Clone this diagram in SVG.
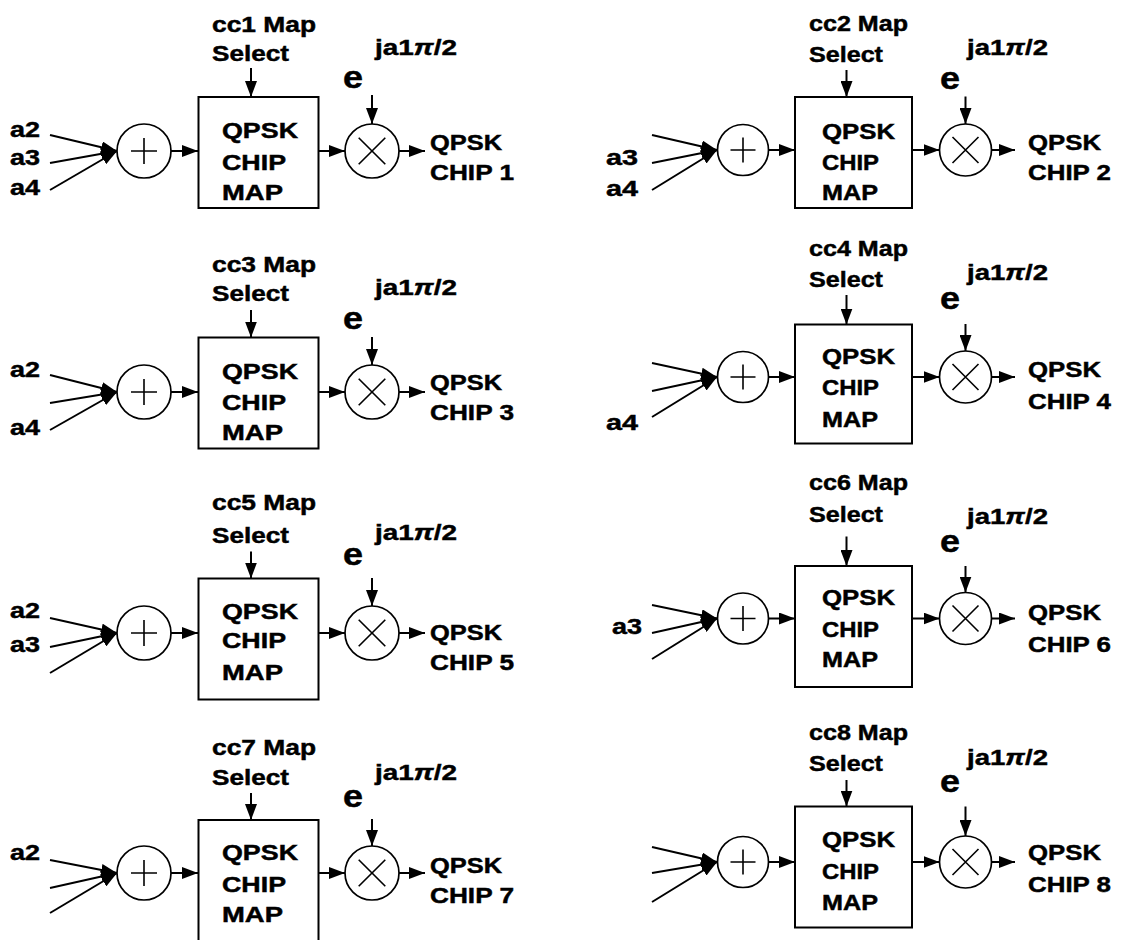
<svg xmlns="http://www.w3.org/2000/svg" width="1138" height="940" viewBox="0 0 1138 940">
<style>
.t{font-family:"Liberation Sans",Arial,sans-serif;font-weight:bold;font-size:21.5px;fill:#000;stroke:#000;stroke-width:0.45}
.e{font-size:32px}
.j{font-size:22.5px}
.pi{font-style:italic}
.box{fill:none;stroke:#000;stroke-width:2}
.c{fill:#fff;stroke:#000;stroke-width:1.7}
.w{stroke:#000;stroke-width:1.6;fill:none}
.ln{stroke:#000;stroke-width:2;fill:none;marker-end:url(#ah)}
</style>
<defs>
<marker id="ah" markerUnits="userSpaceOnUse" markerWidth="16" markerHeight="12" refX="16" refY="6" orient="auto">
<path d="M0,0 L16,6 L0,12 z" fill="#000"/>
</marker>
</defs>
<rect width="1138" height="940" fill="#fff"/>

<g id="connectors">
<line class="ln" x1="50" y1="135" x2="117" y2="151"/>
<line class="ln" x1="50" y1="163" x2="117" y2="151"/>
<line class="ln" x1="50" y1="190" x2="117" y2="151"/>
<line class="ln" x1="171" y1="151" x2="198" y2="151"/>
<line class="ln" x1="319" y1="151" x2="345" y2="151"/>
<line class="ln" x1="399" y1="151" x2="425" y2="151"/>
<line class="ln" x1="251" y1="68" x2="251" y2="97"/>
<line class="ln" x1="372" y1="95" x2="372" y2="124"/>
<line class="ln" x1="50" y1="375" x2="117" y2="392"/>
<line class="ln" x1="50" y1="403" x2="117" y2="392"/>
<line class="ln" x1="50" y1="430" x2="117" y2="392"/>
<line class="ln" x1="171" y1="392" x2="198" y2="392"/>
<line class="ln" x1="319" y1="392" x2="345" y2="392"/>
<line class="ln" x1="399" y1="392" x2="425" y2="392"/>
<line class="ln" x1="251" y1="310" x2="251" y2="337.5"/>
<line class="ln" x1="372" y1="337" x2="372" y2="365"/>
<line class="ln" x1="50" y1="618" x2="117" y2="633"/>
<line class="ln" x1="50" y1="647" x2="117" y2="633"/>
<line class="ln" x1="50" y1="673" x2="117" y2="633"/>
<line class="ln" x1="171" y1="633" x2="198" y2="633"/>
<line class="ln" x1="319" y1="633" x2="345" y2="633"/>
<line class="ln" x1="399" y1="633" x2="425" y2="633"/>
<line class="ln" x1="251" y1="551.5" x2="251" y2="578.5"/>
<line class="ln" x1="372" y1="578" x2="372" y2="606"/>
<line class="ln" x1="50" y1="860" x2="117" y2="873"/>
<line class="ln" x1="50" y1="888" x2="117" y2="873"/>
<line class="ln" x1="50" y1="913" x2="117" y2="873"/>
<line class="ln" x1="171" y1="873" x2="198" y2="873"/>
<line class="ln" x1="319" y1="873" x2="345" y2="873"/>
<line class="ln" x1="399" y1="873" x2="425" y2="873"/>
<line class="ln" x1="251" y1="793" x2="251" y2="820"/>
<line class="ln" x1="372" y1="819" x2="372" y2="846"/>
<line class="ln" x1="652" y1="135" x2="717" y2="150"/>
<line class="ln" x1="652" y1="163" x2="717" y2="150"/>
<line class="ln" x1="652" y1="190" x2="717" y2="150"/>
<line class="ln" x1="769" y1="150" x2="795" y2="150"/>
<line class="ln" x1="912" y1="150" x2="939.5" y2="150"/>
<line class="ln" x1="991.5" y1="150" x2="1015" y2="150"/>
<line class="ln" x1="846.5" y1="70" x2="846.5" y2="97"/>
<line class="ln" x1="965.5" y1="96.5" x2="965.5" y2="124"/>
<line class="ln" x1="652" y1="363" x2="717" y2="377"/>
<line class="ln" x1="652" y1="391" x2="717" y2="377"/>
<line class="ln" x1="652" y1="417" x2="717" y2="377"/>
<line class="ln" x1="769" y1="377" x2="795" y2="377"/>
<line class="ln" x1="912" y1="377" x2="939.5" y2="377"/>
<line class="ln" x1="991.5" y1="377" x2="1015" y2="377"/>
<line class="ln" x1="846.5" y1="295" x2="846.5" y2="324.5"/>
<line class="ln" x1="965.5" y1="324" x2="965.5" y2="351"/>
<line class="ln" x1="652" y1="605" x2="717" y2="618.5"/>
<line class="ln" x1="652" y1="633" x2="717" y2="618.5"/>
<line class="ln" x1="652" y1="659" x2="717" y2="618.5"/>
<line class="ln" x1="769" y1="618.5" x2="795" y2="618.5"/>
<line class="ln" x1="912" y1="618.5" x2="939.5" y2="618.5"/>
<line class="ln" x1="991.5" y1="618.5" x2="1015" y2="618.5"/>
<line class="ln" x1="846.5" y1="536.5" x2="846.5" y2="566"/>
<line class="ln" x1="965.5" y1="566" x2="965.5" y2="592.5"/>
<line class="ln" x1="652" y1="847" x2="717" y2="862"/>
<line class="ln" x1="652" y1="873" x2="717" y2="862"/>
<line class="ln" x1="652" y1="902" x2="717" y2="862"/>
<line class="ln" x1="769" y1="862" x2="795" y2="862"/>
<line class="ln" x1="912" y1="862" x2="939.5" y2="862"/>
<line class="ln" x1="991.5" y1="862" x2="1015" y2="862"/>
<line class="ln" x1="846.5" y1="780" x2="846.5" y2="806.5"/>
<line class="ln" x1="965.5" y1="806.5" x2="965.5" y2="836"/>
</g>

<g id="in1" class="t"><text x="10" y="137" textLength="30" lengthAdjust="spacingAndGlyphs">a2</text><text x="10" y="165" textLength="30" lengthAdjust="spacingAndGlyphs">a3</text><text x="10" y="195" textLength="30" lengthAdjust="spacingAndGlyphs">a4</text></g>
<g id="sum1"><circle class="c" cx="144" cy="151" r="27"/><path class="w" d="M131,151H157M144,138V164"/></g>
<g id="map1"><rect class="box" x="198.5" y="97" width="120" height="111"/>
<g class="t"><text x="222" y="138" textLength="76" lengthAdjust="spacingAndGlyphs">QPSK</text><text x="222" y="170" textLength="64" lengthAdjust="spacingAndGlyphs">CHIP</text><text x="222" y="200" textLength="61" lengthAdjust="spacingAndGlyphs">MAP</text></g></g>
<g id="sel1" class="t"><text x="212" y="31.5" textLength="104" lengthAdjust="spacingAndGlyphs">cc1 Map</text><text x="212" y="61" textLength="77" lengthAdjust="spacingAndGlyphs">Select</text></g>
<g id="mul1"><circle class="c" cx="372" cy="151" r="27"/><path class="w" d="M358.7,137.7L385.3,164.3M358.7,164.3L385.3,137.7"/></g>
<g id="ph1" class="t"><text class="e" x="343" y="88" textLength="20" lengthAdjust="spacingAndGlyphs">e</text><text class="j" x="375" y="55" textLength="82" lengthAdjust="spacingAndGlyphs">ja1<tspan class="pi">π</tspan>/2</text></g>
<g id="out1" class="t"><text x="430" y="150" textLength="72" lengthAdjust="spacingAndGlyphs">QPSK</text><text x="430" y="180" textLength="84" lengthAdjust="spacingAndGlyphs">CHIP 1</text></g>

<g id="in3" class="t"><text x="10" y="377" textLength="30" lengthAdjust="spacingAndGlyphs">a2</text><text x="10" y="435" textLength="30" lengthAdjust="spacingAndGlyphs">a4</text></g>
<g id="sum3"><circle class="c" cx="144" cy="392" r="27"/><path class="w" d="M131,392H157M144,379V405"/></g>
<g id="map3"><rect class="box" x="198.5" y="337.5" width="120" height="111"/>
<g class="t"><text x="222" y="378.5" textLength="76" lengthAdjust="spacingAndGlyphs">QPSK</text><text x="222" y="410" textLength="64" lengthAdjust="spacingAndGlyphs">CHIP</text><text x="222" y="440" textLength="61" lengthAdjust="spacingAndGlyphs">MAP</text></g></g>
<g id="sel3" class="t"><text x="212" y="271.5" textLength="104" lengthAdjust="spacingAndGlyphs">cc3 Map</text><text x="212" y="300.5" textLength="77" lengthAdjust="spacingAndGlyphs">Select</text></g>
<g id="mul3"><circle class="c" cx="372" cy="392" r="27"/><path class="w" d="M358.7,378.7L385.3,405.3M358.7,405.3L385.3,378.7"/></g>
<g id="ph3" class="t"><text class="e" x="343" y="328.5" textLength="20" lengthAdjust="spacingAndGlyphs">e</text><text class="j" x="375" y="295" textLength="82" lengthAdjust="spacingAndGlyphs">ja1<tspan class="pi">π</tspan>/2</text></g>
<g id="out3" class="t"><text x="430" y="390" textLength="72" lengthAdjust="spacingAndGlyphs">QPSK</text><text x="430" y="420" textLength="84" lengthAdjust="spacingAndGlyphs">CHIP 3</text></g>

<g id="in5" class="t"><text x="10" y="618" textLength="30" lengthAdjust="spacingAndGlyphs">a2</text><text x="10" y="651.5" textLength="30" lengthAdjust="spacingAndGlyphs">a3</text></g>
<g id="sum5"><circle class="c" cx="144" cy="633" r="27"/><path class="w" d="M131,633H157M144,620V646"/></g>
<g id="map5"><rect class="box" x="198.5" y="578.5" width="120" height="121"/>
<g class="t"><text x="222" y="618.5" textLength="76" lengthAdjust="spacingAndGlyphs">QPSK</text><text x="222" y="648" textLength="64" lengthAdjust="spacingAndGlyphs">CHIP</text><text x="222" y="680" textLength="61" lengthAdjust="spacingAndGlyphs">MAP</text></g></g>
<g id="sel5" class="t"><text x="212" y="510" textLength="104" lengthAdjust="spacingAndGlyphs">cc5 Map</text><text x="212" y="542.5" textLength="77" lengthAdjust="spacingAndGlyphs">Select</text></g>
<g id="mul5"><circle class="c" cx="372" cy="633" r="27"/><path class="w" d="M358.7,619.7L385.3,646.3M358.7,646.3L385.3,619.7"/></g>
<g id="ph5" class="t"><text class="e" x="343" y="565" textLength="20" lengthAdjust="spacingAndGlyphs">e</text><text class="j" x="375" y="540" textLength="82" lengthAdjust="spacingAndGlyphs">ja1<tspan class="pi">π</tspan>/2</text></g>
<g id="out5" class="t"><text x="430" y="640" textLength="72" lengthAdjust="spacingAndGlyphs">QPSK</text><text x="430" y="670" textLength="84" lengthAdjust="spacingAndGlyphs">CHIP 5</text></g>

<g id="in7" class="t"><text x="10" y="860" textLength="30" lengthAdjust="spacingAndGlyphs">a2</text></g>
<g id="sum7"><circle class="c" cx="144" cy="873" r="27"/><path class="w" d="M131,873H157M144,860V886"/></g>
<g id="map7"><rect class="box" x="198.5" y="820" width="120" height="125"/>
<g class="t"><text x="222" y="860" textLength="76" lengthAdjust="spacingAndGlyphs">QPSK</text><text x="222" y="891.5" textLength="64" lengthAdjust="spacingAndGlyphs">CHIP</text><text x="222" y="921.5" textLength="61" lengthAdjust="spacingAndGlyphs">MAP</text></g></g>
<g id="sel7" class="t"><text x="212" y="755" textLength="104" lengthAdjust="spacingAndGlyphs">cc7 Map</text><text x="212" y="785" textLength="77" lengthAdjust="spacingAndGlyphs">Select</text></g>
<g id="mul7"><circle class="c" cx="372" cy="873" r="27"/><path class="w" d="M358.7,859.7L385.3,886.3M358.7,886.3L385.3,859.7"/></g>
<g id="ph7" class="t"><text class="e" x="343" y="806.5" textLength="20" lengthAdjust="spacingAndGlyphs">e</text><text class="j" x="375" y="780" textLength="82" lengthAdjust="spacingAndGlyphs">ja1<tspan class="pi">π</tspan>/2</text></g>
<g id="out7" class="t"><text x="430" y="873" textLength="72" lengthAdjust="spacingAndGlyphs">QPSK</text><text x="430" y="903" textLength="84" lengthAdjust="spacingAndGlyphs">CHIP 7</text></g>

<g id="in2" class="t"><text x="606" y="165" textLength="32" lengthAdjust="spacingAndGlyphs">a3</text><text x="606" y="196" textLength="32" lengthAdjust="spacingAndGlyphs">a4</text></g>
<g id="sum2"><circle class="c" cx="743" cy="150" r="25.5"/><path class="w" d="M730.5,150H755.5M743,137.5V162.5"/></g>
<g id="map2"><rect class="box" x="795" y="97" width="117" height="111"/>
<g class="t"><text x="822" y="138.5" textLength="73" lengthAdjust="spacingAndGlyphs">QPSK</text><text x="822" y="170" textLength="57" lengthAdjust="spacingAndGlyphs">CHIP</text><text x="822" y="200" textLength="56" lengthAdjust="spacingAndGlyphs">MAP</text></g></g>
<g id="sel2" class="t"><text x="809" y="30.5" textLength="99" lengthAdjust="spacingAndGlyphs">cc2 Map</text><text x="809" y="61.5" textLength="74" lengthAdjust="spacingAndGlyphs">Select</text></g>
<g id="mul2"><circle class="c" cx="965.5" cy="150" r="26"/><path class="w" d="M952.5,137L978.5,163M952.5,163L978.5,137"/></g>
<g id="ph2" class="t"><text class="e" x="940" y="88.5" textLength="20" lengthAdjust="spacingAndGlyphs">e</text><text class="j" x="967" y="55" textLength="81" lengthAdjust="spacingAndGlyphs">ja1<tspan class="pi">π</tspan>/2</text></g>
<g id="out2" class="t"><text x="1028" y="150" textLength="73" lengthAdjust="spacingAndGlyphs">QPSK</text><text x="1028" y="180" textLength="83" lengthAdjust="spacingAndGlyphs">CHIP 2</text></g>

<g id="in4" class="t"><text x="606" y="430" textLength="32" lengthAdjust="spacingAndGlyphs">a4</text></g>
<g id="sum4"><circle class="c" cx="743" cy="377" r="25.5"/><path class="w" d="M730.5,377H755.5M743,364.5V389.5"/></g>
<g id="map4"><rect class="box" x="795" y="324.5" width="117" height="119"/>
<g class="t"><text x="822" y="363.5" textLength="73" lengthAdjust="spacingAndGlyphs">QPSK</text><text x="822" y="395" textLength="57" lengthAdjust="spacingAndGlyphs">CHIP</text><text x="822" y="426.5" textLength="56" lengthAdjust="spacingAndGlyphs">MAP</text></g></g>
<g id="sel4" class="t"><text x="809" y="256" textLength="99" lengthAdjust="spacingAndGlyphs">cc4 Map</text><text x="809" y="286.5" textLength="74" lengthAdjust="spacingAndGlyphs">Select</text></g>
<g id="mul4"><circle class="c" cx="965.5" cy="377" r="26"/><path class="w" d="M952.5,364L978.5,390M952.5,390L978.5,364"/></g>
<g id="ph4" class="t"><text class="e" x="940" y="308.5" textLength="20" lengthAdjust="spacingAndGlyphs">e</text><text class="j" x="967" y="280" textLength="81" lengthAdjust="spacingAndGlyphs">ja1<tspan class="pi">π</tspan>/2</text></g>
<g id="out4" class="t"><text x="1028" y="377" textLength="73" lengthAdjust="spacingAndGlyphs">QPSK</text><text x="1028" y="408.5" textLength="83" lengthAdjust="spacingAndGlyphs">CHIP 4</text></g>

<g id="in6" class="t"><text x="612" y="633.5" textLength="30" lengthAdjust="spacingAndGlyphs">a3</text></g>
<g id="sum6"><circle class="c" cx="743" cy="618.5" r="25.5"/><path class="w" d="M730.5,618.5H755.5M743,606V631"/></g>
<g id="map6"><rect class="box" x="795" y="566" width="117" height="121"/>
<g class="t"><text x="822" y="605" textLength="73" lengthAdjust="spacingAndGlyphs">QPSK</text><text x="822" y="636.5" textLength="57" lengthAdjust="spacingAndGlyphs">CHIP</text><text x="822" y="666.5" textLength="56" lengthAdjust="spacingAndGlyphs">MAP</text></g></g>
<g id="sel6" class="t"><text x="809" y="490" textLength="99" lengthAdjust="spacingAndGlyphs">cc6 Map</text><text x="809" y="521.5" textLength="74" lengthAdjust="spacingAndGlyphs">Select</text></g>
<g id="mul6"><circle class="c" cx="965.5" cy="618.5" r="26"/><path class="w" d="M952.5,605.5L978.5,631.5M952.5,631.5L978.5,605.5"/></g>
<g id="ph6" class="t"><text class="e" x="940" y="551.5" textLength="20" lengthAdjust="spacingAndGlyphs">e</text><text class="j" x="967" y="523.5" textLength="81" lengthAdjust="spacingAndGlyphs">ja1<tspan class="pi">π</tspan>/2</text></g>
<g id="out6" class="t"><text x="1028" y="619.5" textLength="73" lengthAdjust="spacingAndGlyphs">QPSK</text><text x="1028" y="651.5" textLength="83" lengthAdjust="spacingAndGlyphs">CHIP 6</text></g>

<g id="sum8"><circle class="c" cx="743" cy="862" r="25.5"/><path class="w" d="M730.5,862H755.5M743,849.5V874.5"/></g>
<g id="map8"><rect class="box" x="795" y="806.5" width="117" height="121"/>
<g class="t"><text x="822" y="846.5" textLength="73" lengthAdjust="spacingAndGlyphs">QPSK</text><text x="822" y="878.5" textLength="57" lengthAdjust="spacingAndGlyphs">CHIP</text><text x="822" y="910" textLength="56" lengthAdjust="spacingAndGlyphs">MAP</text></g></g>
<g id="sel8" class="t"><text x="809" y="740" textLength="99" lengthAdjust="spacingAndGlyphs">cc8 Map</text><text x="809" y="771" textLength="74" lengthAdjust="spacingAndGlyphs">Select</text></g>
<g id="mul8"><circle class="c" cx="965.5" cy="862" r="26"/><path class="w" d="M952.5,849L978.5,875M952.5,875L978.5,849"/></g>
<g id="ph8" class="t"><text class="e" x="940" y="791.5" textLength="20" lengthAdjust="spacingAndGlyphs">e</text><text class="j" x="967" y="765" textLength="81" lengthAdjust="spacingAndGlyphs">ja1<tspan class="pi">π</tspan>/2</text></g>
<g id="out8" class="t"><text x="1028" y="860" textLength="73" lengthAdjust="spacingAndGlyphs">QPSK</text><text x="1028" y="891.5" textLength="83" lengthAdjust="spacingAndGlyphs">CHIP 8</text></g>
</svg>
